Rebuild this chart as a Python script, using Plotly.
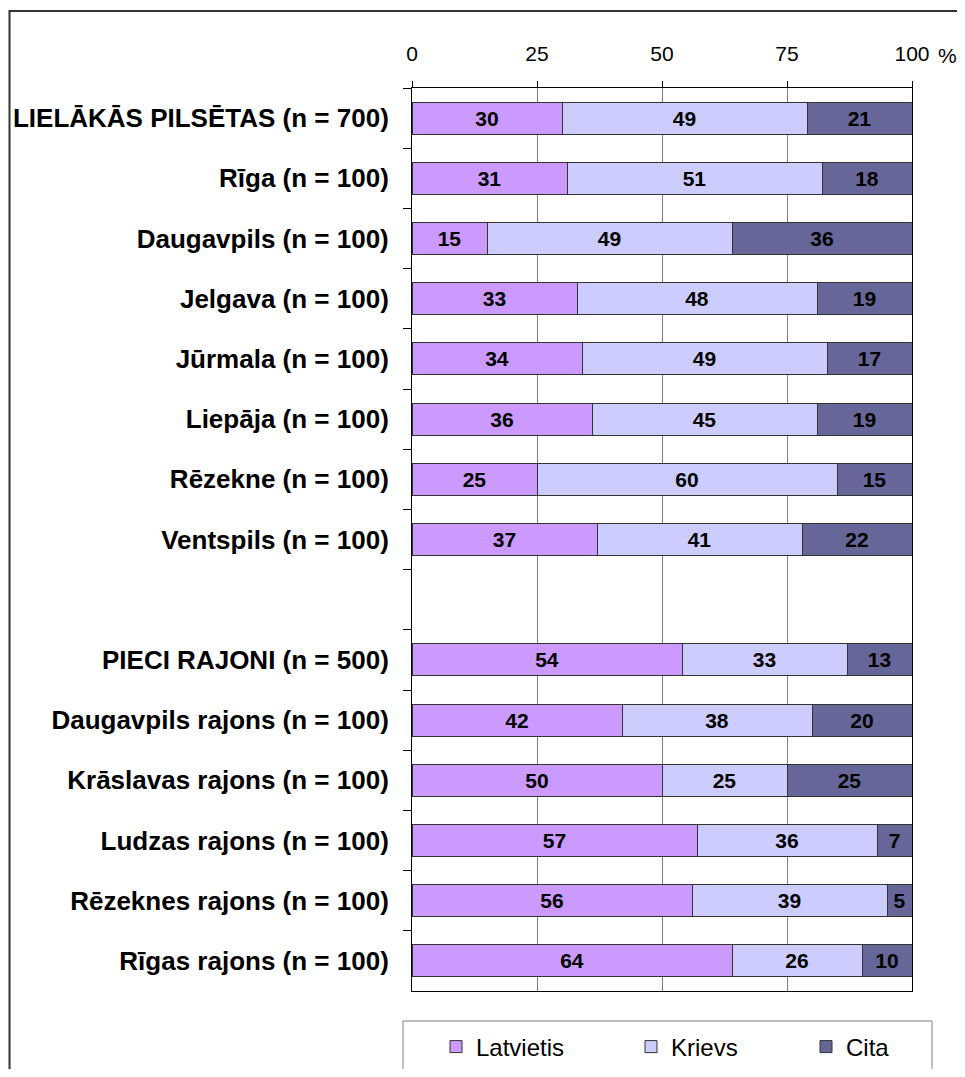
import plotly.graph_objects as go

categories = [
    "LIELĀKĀS PILSĒTAS (n = 700)",
    "Rīga (n = 100)",
    "Daugavpils (n = 100)",
    "Jelgava (n = 100)",
    "Jūrmala (n = 100)",
    "Liepāja (n = 100)",
    "Rēzekne (n = 100)",
    "Ventspils (n = 100)",
    " ",
    "PIECI RAJONI (n = 500)",
    "Daugavpils rajons (n = 100)",
    "Krāslavas rajons (n = 100)",
    "Ludzas rajons (n = 100)",
    "Rēzeknes rajons (n = 100)",
    "Rīgas rajons (n = 100)",
]
latvietis = [30, 31, 15, 33, 34, 36, 25, 37, None, 54, 42, 50, 57, 56, 64]
krievs = [49, 51, 49, 48, 49, 45, 60, 41, None, 33, 38, 25, 36, 39, 26]
cita = [21, 18, 36, 19, 17, 19, 15, 22, None, 13, 20, 25, 7, 5, 10]
series_names = ["Latvietis", "Krievs", "Cita"]
colors = ["#CC99FF", "#CCCCFF", "#666699"]
x_ticks = [0, 25, 50, 75, 100]

FONT = "Liberation Sans, Arial, sans-serif"

# page body has an 8px margin: work in reference coords, convert to figure coords
OFF = 8
W, H = 965 - OFF, 1077 - 2 * OFF
L = 412 - OFF
T = 88 - OFF
R = W - (912 - OFF)
B = H - (991 - OFF)
pw = W - L - R
ph = H - T - B


def px(x):
    return (x - OFF - L) / pw


def py(y):
    return (H - B - (y - OFF)) / ph


legend_ids = ["legend", "legend2", "legend3"]
legend_x = [436, 631, 806]

fig = go.Figure()
for name, vals, col, lid in zip(series_names, [latvietis, krievs, cita], colors, legend_ids):
    fig.add_trace(go.Bar(
        name=name, y=categories, x=vals, orientation="h", legend=lid,
        marker=dict(color=col, line=dict(color="#333333", width=1)),
        text=[("" if v is None else str(v)) for v in vals],
        textposition="inside", insidetextanchor="middle",
        textfont=dict(family=FONT, size=21, color="black", weight="bold"),
        constraintext="none",
    ))

legend_common = dict(
    orientation="h", xanchor="left", yanchor="middle",
    font=dict(family=FONT, size=24, color="black"),
    borderwidth=0, bgcolor="rgba(0,0,0,0)",
)

fig.update_layout(
    template="none",
    width=W, height=H,
    margin=dict(l=L, r=R, t=T, b=B, autoexpand=False),
    paper_bgcolor="white", plot_bgcolor="white",
    barmode="stack", bargap=0.47,
    font=dict(family=FONT, color="black"),
    showlegend=True,
    legend=dict(x=px(legend_x[0]), y=py(1047), **legend_common),
    legend2=dict(x=px(legend_x[1]), y=py(1047), **legend_common),
    legend3=dict(x=px(legend_x[2]), y=py(1047), **legend_common),
    xaxis=dict(
        side="top", range=[0, 100], tickvals=x_ticks,
        ticktext=[str(t) for t in x_ticks],
        ticks="outside", ticklen=6, tickcolor="black",
        showgrid=True, gridcolor="#808080", gridwidth=1,
        showline=True, linecolor="black", linewidth=1, mirror=True,
        zeroline=False, automargin=False,
        tickfont=dict(family=FONT, size=21, color="black"),
        ticklabelstandoff=12,
    ),
    yaxis=dict(
        type="category", categoryorder="array", categoryarray=categories,
        range=[len(categories) - 0.5, -0.5],
        tickson="boundaries", ticks="outside", ticklen=8, tickcolor="black",
        showgrid=False, showline=True, linecolor="black", linewidth=1, mirror=True,
        zeroline=False, automargin=False,
        tickfont=dict(family=FONT, size=26, color="black", weight="bold"),
        ticklabelstandoff=17,
    ),
    shapes=[
        dict(type="rect", xref="paper", yref="paper",
             x0=px(9.5), x1=px(1000), y0=py(1200), y1=py(11),
             line=dict(color="#333333", width=2), fillcolor="rgba(0,0,0,0)", layer="below"),
        dict(type="rect", xref="paper", yref="paper",
             x0=px(403), x1=px(932), y0=py(1100), y1=py(1021),
             line=dict(color="#808080", width=1), fillcolor="rgba(0,0,0,0)"),
    ],
    annotations=[
        dict(text="%", xref="paper", yref="paper", x=px(947), y=py(55),
             xanchor="center", yanchor="middle", showarrow=False,
             font=dict(family=FONT, size=21, color="black")),
    ],
)

fig.write_html("out.html")
